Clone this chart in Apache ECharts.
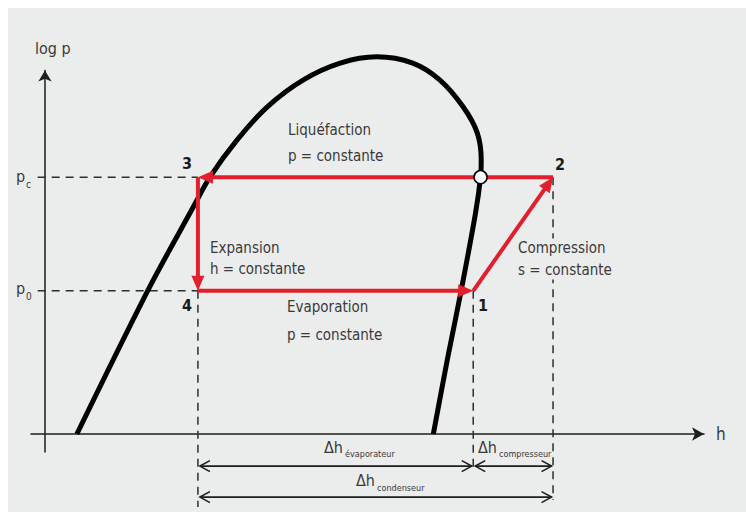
<!DOCTYPE html>
<html>
<head>
<meta charset="utf-8">
<script src="https://cdn.jsdelivr.net/npm/echarts@6/dist/echarts.min.js"></script>
<style>
  html, body { margin: 0; padding: 0; background: #fff; }
  #chart { width: 746px; height: 512px; }
</style>
</head>
<body>
<div id="chart"></div>
<script>
// diagramme log p - h : courbe de saturation + cycle frigorifique
const domeH    = [4.8, 15.5, 22.3, 24.8, 28.9, 33.4, 38.8, 44.4, 49.9, 55.3, 59.4, 62.9, 65.0, 65.6, 65.5, 64.7, 62.6, 60.5, 58.4];
const domeLogP = [0.0, 39.0, 61.5, 69.6, 79.7, 88.6, 95.9, 100.5, 102.2, 100.5, 95.9, 88.6, 81.6, 74.3, 69.6, 59.4, 39.0, 20.1, 0.0];

// points du cycle 1..4
const stateLabels = ['1', '2', '3', '4'];
const stateH      = [64.4, 76.4, 23.0, 23.0];
const stateLogP   = [38.8, 69.6, 69.6, 38.8];
const vaporPointH = 65.5; // croisement courbe de vapeur / pc

// niveaux de pression sur l'axe
const pressureSubs   = ['c', '0'];
const pressureLevels = [69.6, 38.8];

// lignes de rappel verticales (points 1, 2, 4) : bas de la ligne
const guideStates = [0, 1, 3];
const guideBottom = [-10.0, -17.9, -19.8];

// cotes delta h
const deltaSubs  = ['évaporateur', 'compresseur', 'condenseur'];
const deltaFrom  = [2, 0, 2]; // index des points
const deltaTo    = [0, 1, 1];
const deltaLevel = [-8.7, -8.7, -17.1];

const BG = '#ebecec';
const RED = '#e21f2c';
const INK = '#1e1e1e';
const TXT = '#3a3a3a';
const FONT = "'Liberation Sans Narrow', 'DejaVu Sans Condensed', 'Liberation Sans', sans-serif";

// segments du cycle : 2 -> 3 -> 4 -> 1 -> 2
const cycleOrder = [1, 2, 3, 0, 1];
const cycleSegs = [];
for (let i = 0; i < cycleOrder.length - 1; i++) {
  const a = cycleOrder[i], b = cycleOrder[i + 1];
  cycleSegs.push([stateH[a], stateLogP[a], stateH[b], stateLogP[b]]);
}

// lignes pointillees
const dashSegs = [];
dashSegs.push([-1.1, pressureLevels[0], stateH[2], pressureLevels[0]]);
dashSegs.push([-1.1, pressureLevels[1], stateH[3], pressureLevels[1]]);
guideStates.forEach((s, i) => {
  dashSegs.push([stateH[s], stateLogP[s], stateH[s], guideBottom[i]]);
});

const dimSegs = deltaSubs.map((_, i) => [stateH[deltaFrom[i]], deltaLevel[i], stateH[deltaTo[i]], deltaLevel[i]]);

function unit(a, b) {
  const dx = b[0] - a[0], dy = b[1] - a[1];
  const len = Math.sqrt(dx * dx + dy * dy) || 1;
  return [dx / len, dy / len];
}

function renderCycle(params, api) {
  const a = api.coord([api.value(0), api.value(1)]);
  const b = api.coord([api.value(2), api.value(3)]);
  const u = unit(a, b);
  const hl = 15, hw = 6.5;
  const base = [b[0] - u[0] * hl, b[1] - u[1] * hl];
  return {
    type: 'group',
    children: [
      { type: 'line', shape: { x1: a[0], y1: a[1], x2: base[0] + u[0], y2: base[1] + u[1] },
        style: { stroke: RED, lineWidth: 4 } },
      { type: 'polygon', shape: { points: [b, [base[0] - u[1] * hw, base[1] + u[0] * hw], [base[0] + u[1] * hw, base[1] - u[0] * hw]] },
        style: { fill: RED } }
    ]
  };
}

function renderDash(params, api) {
  const a = api.coord([api.value(0), api.value(1)]);
  const b = api.coord([api.value(2), api.value(3)]);
  return { type: 'line', shape: { x1: a[0], y1: a[1], x2: b[0], y2: b[1] },
    style: { stroke: '#2e2e2e', lineWidth: 1.5, lineDash: [8, 6] } };
}

function renderDim(params, api) {
  let a = api.coord([api.value(0), api.value(1)]);
  let b = api.coord([api.value(2), api.value(3)]);
  a = [a[0] + 2, a[1]];
  b = [b[0] - 1.5, b[1]];
  const cl = 10, cw = 5.5;
  const style = { stroke: INK, lineWidth: 1.6, fill: null };
  return {
    type: 'group',
    children: [
      { type: 'line', shape: { x1: a[0], y1: a[1], x2: b[0], y2: b[1] }, style: style },
      { type: 'polyline', shape: { points: [[a[0] + cl, a[1] - cw], a, [a[0] + cl, a[1] + cw]] }, style: style },
      { type: 'polyline', shape: { points: [[b[0] - cl, b[1] - cw], b, [b[0] - cl, b[1] + cw]] }, style: style }
    ]
  };
}

function txt(x, y, s, size, extra) {
  return Object.assign({
    type: 'text', x: x, y: y, z: 100,
    style: {
      text: s, fill: TXT, font: size + 'px ' + FONT,
      align: 'left', verticalAlign: 'middle', textAlign: 'left', textVerticalAlign: 'middle'
    }
  }, extra || {});
}
function bold(x, y, s) {
  const t = txt(x, y, s, 16);
  t.style.font = 'bold 16px ' + FONT;
  t.style.fill = '#1a1a1a';
  t.style.align = 'center';
  t.style.textAlign = 'center';
  return t;
}
// texte avec fond (masque la ligne de rappel)
function boxed(x, y, s, size) {
  const t = txt(x, y, s, size);
  t.style.backgroundColor = BG;
  t.style.padding = [2, 1];
  return t;
}

const graphics = [
  { type: 'rect', z: -10, shape: { x: 8, y: 8, width: 738, height: 504 }, style: { fill: BG } },
  txt(35, 48, 'log p', 16),
  txt(716, 434, 'h', 17),
  txt(16, 176, 'p', 16), txt(26, 184, pressureSubs[0], 10),
  txt(16, 288, 'p', 16), txt(26, 296, pressureSubs[1], 10),
  txt(288, 130, 'Liquéfaction', 15), txt(288, 155.5, 'p = constante', 15),
  txt(210, 248, 'Expansion', 15), txt(210, 269, 'h = constante', 15),
  txt(287, 307, 'Evaporation', 15), txt(287, 335, 'p = constante', 15),
  boxed(517, 248, 'Compression', 15), boxed(517, 270, 's = constante', 15),
  bold(187, 163, stateLabels[2]), bold(560, 164, stateLabels[1]),
  bold(187, 305, stateLabels[3]), bold(483, 305, stateLabels[0]),
  txt(324, 447, 'Δh', 16), txt(345, 454, deltaSubs[0], 9),
  txt(478, 447, 'Δh', 16), txt(499, 454, deltaSubs[1], 9),
  txt(356, 480, 'Δh', 16), txt(377, 488, deltaSubs[2], 9)
];

const chart = echarts.init(document.getElementById('chart'), null, { renderer: 'svg' });
chart.setOption({
  backgroundColor: '#ffffff',
  animation: false,
  grid: { left: 31, right: 42, top: 70.5, bottom: 60 },
  xAxis: {
    type: 'value', min: -2.1, max: 99.1,
    axisLine: { onZero: true, symbol: ['none', 'arrow'], symbolSize: [10, 12], lineStyle: { color: INK, width: 1.5 } },
    axisTick: { show: false }, axisLabel: { show: false }, splitLine: { show: false }
  },
  yAxis: {
    type: 'value', min: -4.88, max: 98.5,
    axisLine: { onZero: true, symbol: ['none', 'arrow'], symbolSize: [10, 11], lineStyle: { color: INK, width: 1.5 } },
    axisTick: { show: false }, axisLabel: { show: false }, splitLine: { show: false }
  },
  graphic: graphics,
  series: [
    {
      type: 'custom', name: 'rappels', renderItem: renderDash, z: 3,
      data: dashSegs, encode: { x: [0, 2], y: [1, 3] }
    },
    {
      type: 'custom', name: 'cotes', renderItem: renderDim, z: 3,
      data: dimSegs, encode: { x: [0, 2], y: [1, 3] }
    },
    {
      type: 'line', name: 'saturation', z: 4, clip: false,
      data: domeH.map((h, i) => [h, domeLogP[i]]),
      smooth: 0.3, showSymbol: false, symbol: 'none',
      lineStyle: { color: '#000', width: 5 }
    },
    {
      type: 'custom', name: 'cycle', renderItem: renderCycle, z: 5,
      data: cycleSegs, encode: { x: [0, 2], y: [1, 3] }
    },
    {
      type: 'scatter', name: 'point', z: 6,
      data: [[vaporPointH, pressureLevels[0]]],
      symbol: 'circle', symbolSize: 13,
      itemStyle: { color: '#fff', borderColor: '#000', borderWidth: 1.5, opacity: 1 }
    }
  ]
});
</script>
</body>
</html>
